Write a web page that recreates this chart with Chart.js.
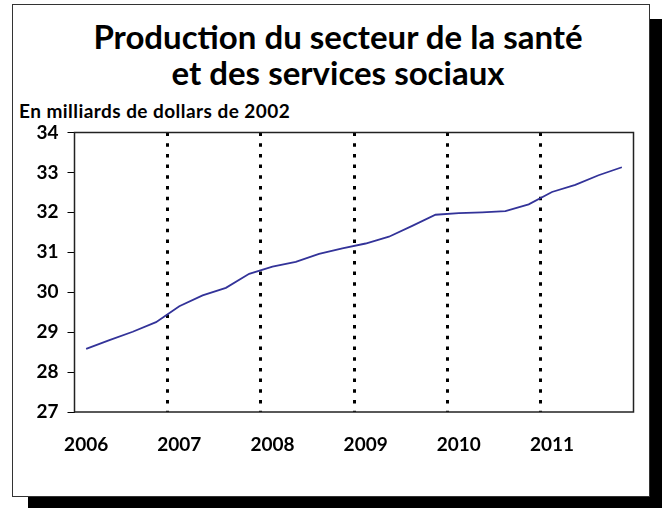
<!DOCTYPE html>
<html>
<head>
<meta charset="utf-8">
<script src="https://cdn.jsdelivr.net/npm/chart.js@4"></script>
<style>
  body { margin: 0; background: #fff; }
  #wrap { position: relative; width: 662px; height: 508px; overflow: hidden; }
  #box {
    position: absolute; left: 12px; top: 4px; width: 636px; height: 491px;
    border: 1.5px solid #333; background: #fff;
    box-shadow: 16px 15px 0 #000;
  }
  .txt { position: absolute; font-family: Lato, sans-serif; font-weight: bold; color: #000; white-space: nowrap; }
  #title { left: 0; width: 676px; top: 18px; text-align: center; font-size: 33px; line-height: 36px; }
  #subtitle { left: 19px; top: 99px; font-size: 19px; letter-spacing: 0.45px; }
  canvas { position: absolute; left: 0; top: 0; }
</style>
</head>
<body>
<div id="wrap">
  <div id="box"></div>
  <div class="txt" id="title">Production du secteur de la santé<br>et des services sociaux</div>
  <div class="txt" id="subtitle">En milliards de dollars de 2002</div>
  <canvas id="chart" width="662" height="508"></canvas>
</div>
<script>
// Quarterly data, 2006 to 2011
const quarters = [
  '2006T1', '2006T2', '2006T3', '2006T4',
  '2007T1', '2007T2', '2007T3', '2007T4',
  '2008T1', '2008T2', '2008T3', '2008T4',
  '2009T1', '2009T2', '2009T3', '2009T4',
  '2010T1', '2010T2', '2010T3', '2010T4',
  '2011T1', '2011T2', '2011T3', '2011T4'
];
const yearLabels = ['2006', '2007', '2008', '2009', '2010', '2011'];
const production = [
  28.58, 28.80, 29.01, 29.25,
  29.65, 29.92, 30.11, 30.46,
  30.64, 30.76, 30.96, 31.10,
  31.22, 31.39, 31.66, 31.94,
  31.98, 32.00, 32.03, 32.20,
  32.51, 32.69, 32.93, 33.13
];
const yMin = 27;
const yMax = 34;

// Frame around the plot area
const plotFrame = {
  id: 'plotFrame',
  beforeDatasetsDraw(chart) {
    const { ctx, chartArea } = chart;
    ctx.save();
    ctx.strokeStyle = '#222';
    ctx.lineWidth = 1.5;
    ctx.strokeRect(chartArea.left, chartArea.top, chartArea.right - chartArea.left, chartArea.bottom - chartArea.top);
    ctx.restore();
  }
};

const ctx = document.getElementById('chart').getContext('2d');
new Chart(ctx, {
  type: 'line',
  data: {
    labels: quarters,
    datasets: [{
      data: production,
      borderColor: '#333399',
      borderWidth: 1.8,
      pointRadius: 0,
      tension: 0,
      fill: false
    }]
  },
  options: {
    responsive: false,
    animation: false,
    devicePixelRatio: 1,
    layout: { padding: { top: 132.5, left: 0, right: 28.5, bottom: 56 } },
    plugins: {
      legend: { display: false },
      tooltip: { enabled: false }
    },
    scales: {
      x: {
        offset: true,
        border: { display: false, dash: [3.5, 7.2] },
        grid: {
          offset: true,
          drawTicks: false,
          lineWidth: 3,
          color: c => (c.index % 4 === 0 && c.index > 0 && c.index < quarters.length) ? '#000' : 'rgba(0,0,0,0)'
        },
        ticks: {
          autoSkip: false,
          maxRotation: 0,
          padding: 21,
          color: '#000',
          font: { family: 'Lato', weight: 'bold', size: 19 },
          callback: (v, i) => i % 4 === 0 ? yearLabels[i / 4] : ''
        },
        afterFit: s => { s.height = 40; }
      },
      y: {
        min: yMin,
        max: yMax,
        border: { display: false },
        grid: { drawOnChartArea: false, drawTicks: true, tickLength: 7, color: '#000', lineWidth: 1 },
        ticks: {
          stepSize: 1,
          padding: 9,
          color: '#000',
          font: { family: 'Lato', weight: 'bold', size: 19 }
        },
        afterFit: s => { s.width = 74.5; }
      }
    }
  },
  plugins: [plotFrame]
});
</script>
</body>
</html>
